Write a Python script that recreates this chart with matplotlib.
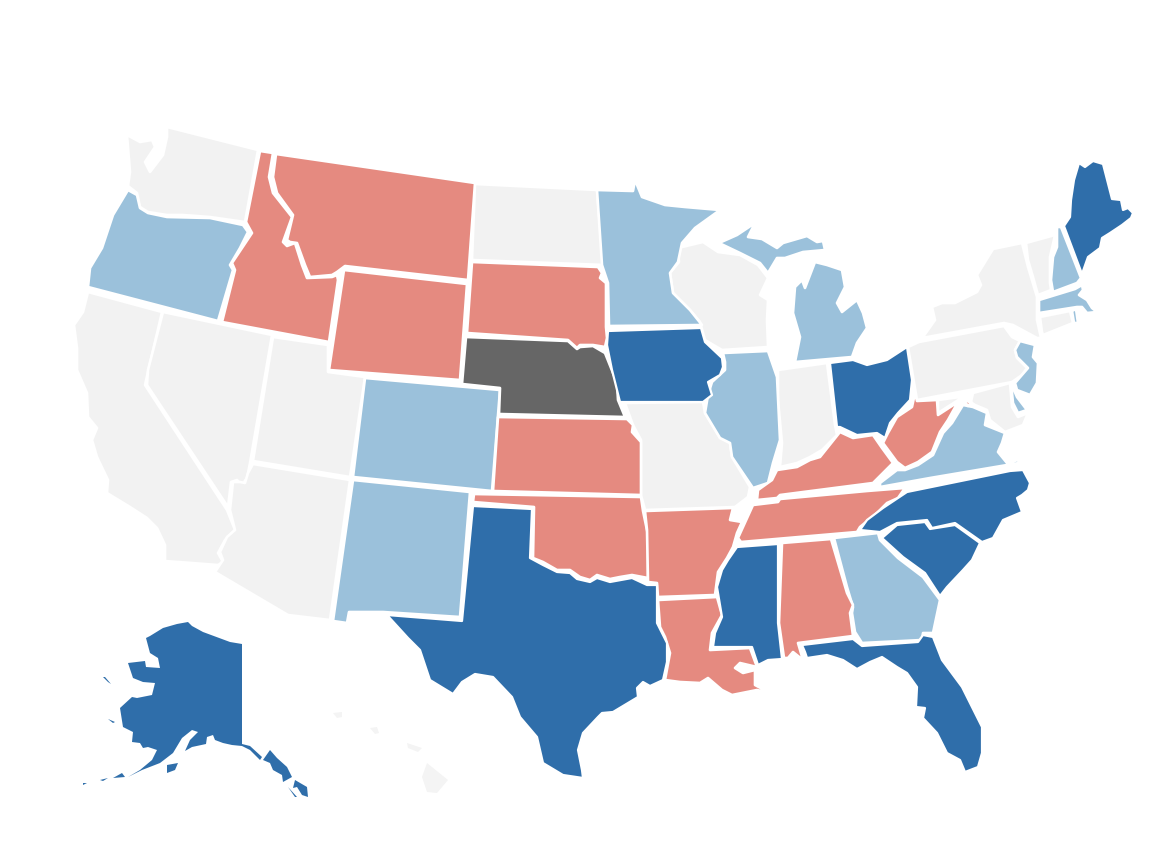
import matplotlib
matplotlib.use("Agg")
import matplotlib.pyplot as plt

# state outlines (x, y in picture pixels)
WA = [(167, 127), (258, 150), (245, 222), (210, 217), (183, 215), (167, 215), (148, 212), (140, 207), (137, 193), (128, 186), (130, 172), (127, 135), (140, 142), (152, 140), (155, 147), (145, 162), (150, 172), (163, 155), (167, 137)]
OR = [(128, 190), (137, 195), (140, 208), (148, 213), (167, 217), (210, 218), (243, 225), (248, 232), (240, 248), (230, 265), (233, 270), (218, 321), (88, 287), (90, 268), (102, 248), (113, 215)]
CA = [(88, 292), (162, 312), (148, 372), (145, 385), (227, 510), (235, 530), (225, 540), (218, 553), (223, 562), (218, 565), (165, 561), (165, 545), (157, 528), (147, 518), (130, 507), (107, 493), (108, 480), (97, 457), (92, 440), (97, 428), (88, 417), (87, 393), (77, 370), (77, 348), (74, 325), (83, 312)]
NV = [(163, 312), (272, 335), (250, 463), (247, 478), (242, 485), (237, 480), (231, 482), (228, 507), (147, 385), (148, 370)]
ID = [(260, 151), (273, 153), (269, 177), (273, 193), (292, 217), (283, 242), (287, 246), (295, 243), (302, 265), (307, 278), (332, 277), (337, 275), (338, 280), (329, 342), (222, 322), (235, 270), (232, 263), (252, 233), (246, 222)]
MT = [(276, 154), (475, 183), (468, 280), (345, 266), (337, 272), (332, 275), (310, 277), (305, 265), (297, 243), (290, 242), (287, 240), (293, 215), (277, 193), (273, 177)]
WY = [(344, 270), (467, 284), (460, 380), (329, 370)]
UT = [(273, 337), (328, 345), (328, 372), (365, 377), (350, 477), (253, 461)]
AZ = [(253, 464), (350, 480), (330, 620), (288, 615), (215, 572), (223, 560), (220, 552), (227, 537), (235, 530), (230, 510), (233, 482), (240, 482), (245, 483), (248, 473)]
CO = [(365, 378), (500, 390), (492, 491), (353, 477)]
NM = [(353, 480), (470, 492), (460, 617), (383, 612), (349, 612), (347, 623), (333, 621)]
ND = [(475, 184), (597, 190), (601, 240), (605, 265), (472, 260)]
SD = [(472, 262), (598, 267), (602, 273), (600, 278), (606, 283), (606, 327), (607, 338), (605, 347), (593, 345), (580, 345), (577, 348), (568, 340), (467, 333)]
NE = [(466, 337), (568, 341), (577, 349), (580, 347), (593, 346), (605, 353), (617, 383), (618, 400), (625, 417), (499, 414), (500, 388), (462, 384)]
KS = [(498, 417), (627, 419), (633, 425), (632, 432), (641, 442), (641, 495), (493, 491)]
OK = [(474, 494), (641, 497), (643, 511), (648, 535), (648, 578), (632, 575), (620, 577), (610, 579), (597, 575), (590, 580), (580, 577), (570, 570), (557, 570), (543, 562), (533, 558), (534, 507), (473, 502)]
TX = [(473, 506), (532, 509), (530, 558), (543, 565), (557, 572), (570, 573), (577, 579), (590, 582), (597, 578), (610, 582), (632, 578), (647, 585), (657, 585), (657, 623), (667, 643), (667, 662), (663, 680), (650, 686), (643, 682), (637, 688), (638, 697), (613, 712), (602, 713), (598, 717), (583, 733), (578, 750), (582, 770), (583, 778), (563, 775), (543, 763), (537, 737), (520, 717), (512, 697), (493, 677), (475, 674), (462, 682), (453, 694), (430, 680), (420, 650), (408, 638), (387, 615), (462, 621)]
MN = [(597, 190), (633, 191), (635, 180), (642, 197), (665, 205), (685, 207), (720, 210), (695, 228), (682, 243), (678, 262), (670, 273), (673, 293), (690, 310), (702, 325), (609, 326), (608, 283), (602, 265)]
IA = [(608, 331), (701, 328), (705, 342), (722, 358), (723, 367), (720, 375), (708, 382), (712, 395), (703, 402), (620, 402), (612, 370), (607, 345)]
MO = [(625, 403), (703, 402), (705, 413), (720, 438), (730, 443), (732, 457), (750, 487), (748, 497), (735, 507), (645, 510), (641, 495), (641, 440), (633, 425)]
AR = [(645, 511), (733, 508), (730, 520), (742, 522), (737, 533), (733, 547), (727, 558), (718, 572), (715, 595), (658, 597), (657, 583), (648, 582), (647, 530)]
LA = [(658, 600), (717, 597), (722, 615), (712, 633), (710, 650), (750, 648), (757, 667), (740, 663), (735, 668), (743, 673), (755, 670), (755, 685), (770, 693), (757, 690), (747, 692), (732, 695), (722, 690), (708, 678), (700, 683), (680, 682), (665, 680), (670, 653), (665, 637), (660, 627)]
WI = [(678, 248), (703, 242), (718, 252), (740, 255), (758, 265), (768, 278), (760, 295), (768, 300), (767, 320), (768, 347), (722, 350), (705, 340), (700, 322), (690, 310), (673, 293), (670, 273), (679, 262)]
MI_UP = [(719, 243), (737, 235), (755, 223), (748, 237), (762, 239), (777, 248), (783, 243), (807, 236), (817, 242), (823, 241), (825, 250), (803, 252), (785, 258), (777, 258), (768, 273), (760, 263), (740, 253)]
MI_LP = [(815, 262), (827, 265), (842, 270), (845, 287), (837, 303), (842, 312), (857, 300), (863, 313), (867, 328), (857, 343), (852, 357), (795, 362), (800, 337), (793, 313), (795, 287), (802, 280), (805, 288), (810, 275)]
IL = [(723, 353), (768, 351), (777, 377), (780, 440), (773, 463), (768, 483), (753, 488), (732, 457), (730, 443), (720, 438), (705, 413), (708, 395), (712, 382), (725, 370), (725, 362)]
IN = [(778, 370), (827, 363), (835, 425), (837, 435), (822, 450), (810, 457), (797, 463), (780, 467), (782, 443), (778, 400)]
OH = [(830, 363), (853, 360), (867, 365), (887, 360), (907, 347), (912, 380), (910, 400), (898, 413), (890, 423), (885, 438), (877, 433), (857, 435), (840, 427), (837, 427)]
KY = [(758, 490), (772, 480), (777, 470), (797, 467), (810, 460), (820, 457), (840, 432), (853, 438), (873, 435), (882, 448), (893, 463), (873, 483), (780, 495), (777, 498), (757, 500)]
TN = [(741, 542), (738, 538), (753, 505), (778, 502), (780, 499), (867, 491), (905, 488), (898, 498), (887, 503), (877, 513), (860, 527), (857, 532)]
MS = [(737, 547), (778, 544), (778, 623), (782, 659), (768, 660), (758, 665), (753, 650), (752, 647), (713, 647), (715, 633), (722, 617), (717, 587), (722, 570), (728, 560)]
AL = [(782, 543), (831, 539), (847, 593), (853, 605), (850, 613), (853, 636), (798, 643), (803, 660), (793, 652), (788, 658), (784, 658), (779, 623)]
GA = [(834, 538), (878, 533), (880, 540), (898, 558), (923, 577), (940, 600), (933, 633), (923, 633), (922, 640), (862, 643), (855, 632), (852, 613), (853, 607), (847, 587)]
FL = [(802, 645), (853, 639), (862, 646), (918, 642), (923, 635), (933, 637), (942, 660), (962, 687), (982, 727), (982, 753), (978, 767), (965, 772), (960, 760), (947, 753), (937, 733), (923, 718), (925, 708), (916, 707), (917, 687), (907, 673), (897, 667), (882, 657), (870, 662), (857, 669), (843, 660), (827, 655), (807, 658), (805, 652)]
SC = [(882, 538), (897, 525), (925, 522), (930, 529), (955, 525), (980, 543), (972, 560), (963, 570), (947, 587), (940, 596), (925, 573), (903, 557)]
NC = [(860, 530), (867, 520), (883, 508), (907, 492), (1010, 471), (1023, 470), (1030, 483), (1028, 490), (1022, 495), (1017, 498), (1022, 512), (1003, 520), (993, 538), (982, 542), (955, 523), (932, 528), (927, 520), (897, 523), (880, 532)]
VA = [(880, 483), (897, 470), (905, 470), (918, 465), (933, 455), (943, 433), (952, 423), (963, 405), (973, 407), (987, 413), (985, 425), (1005, 433), (1002, 443), (998, 452), (1007, 463), (1018, 460), (1019, 463), (930, 478), (880, 487)]
WV = [(915, 393), (917, 401), (937, 400), (938, 415), (958, 402), (948, 420), (940, 432), (932, 452), (918, 462), (905, 468), (897, 462), (883, 443), (888, 433), (897, 417), (912, 407)]
WV_TIP = [(962, 398), (971, 403), (968, 406)]
MD = [(938, 400), (960, 397), (971, 402), (973, 393), (1010, 383), (1012, 407), (1018, 417), (1028, 413), (1023, 425), (1005, 432), (990, 420), (987, 410), (975, 405), (963, 397), (938, 413)]
DE = [(1011, 383), (1017, 397), (1027, 410), (1018, 413), (1013, 403)]
PA = [(919, 342), (1004, 326), (1012, 337), (1020, 341), (1015, 350), (1017, 358), (1027, 368), (1022, 375), (1012, 382), (917, 400), (908, 347)]
NJ = [(1020, 341), (1035, 345), (1033, 357), (1038, 363), (1037, 383), (1030, 395), (1017, 390), (1015, 383), (1028, 368), (1017, 357), (1015, 350)]
NY = [(923, 337), (935, 320), (932, 307), (942, 303), (955, 303), (977, 292), (981, 285), (977, 275), (993, 249), (1022, 243), (1028, 267), (1037, 297), (1037, 320), (1041, 338), (1037, 338), (1013, 325), (1004, 323), (922, 338)]
CT = [(1040, 317), (1070, 311), (1073, 323), (1043, 335), (1042, 332)]
RI = [(1072, 311), (1076, 309), (1078, 323), (1074, 323)]
MA = [(1039, 300), (1075, 289), (1082, 285), (1083, 290), (1079, 295), (1087, 300), (1092, 308), (1097, 312), (1087, 313), (1082, 307), (1077, 307), (1039, 313)]
VT = [(1026, 243), (1055, 235), (1050, 257), (1050, 283), (1051, 290), (1038, 295), (1033, 277), (1028, 260)]
NH = [(1057, 227), (1061, 227), (1081, 278), (1077, 283), (1053, 292), (1051, 280), (1053, 257), (1057, 247)]
ME = [(1079, 163), (1085, 167), (1093, 161), (1103, 164), (1112, 199), (1121, 200), (1123, 210), (1128, 208), (1133, 213), (1131, 218), (1122, 225), (1110, 233), (1102, 238), (1100, 248), (1088, 257), (1082, 274), (1064, 226), (1070, 217), (1071, 200), (1074, 180)]
AK = [(146, 638), (150, 636), (163, 628), (177, 624), (188, 622), (192, 626), (203, 632), (230, 642), (242, 644), (242, 744), (250, 746), (262, 757), (260, 760), (250, 750), (242, 746), (232, 745), (223, 743), (215, 740), (213, 735), (207, 737), (206, 744), (192, 747), (185, 751), (190, 740), (198, 732), (192, 730), (182, 738), (173, 753), (160, 763), (142, 770), (128, 777), (140, 770), (152, 760), (157, 750), (148, 747), (143, 748), (140, 743), (132, 742), (133, 732), (123, 727), (120, 708), (132, 697), (137, 698), (152, 695), (155, 683), (143, 682), (133, 678), (128, 663), (145, 661), (146, 667), (160, 668), (158, 658), (150, 653)]
AK_KODIAK = [(167, 765), (178, 763), (175, 770), (167, 773)]
AK_ALEUT_1 = [(113, 778), (122, 773), (125, 777)]
AK_ALEUT_2 = [(100, 780), (108, 778), (103, 781)]
AK_ALEUT_3 = [(83, 783), (87, 783), (83, 785)]
AK_NUNIVAK = [(108, 719), (115, 722), (113, 723)]
AK_LAWRENCE = [(103, 677), (105, 677), (111, 684), (108, 682)]
AK_PAN_1 = [(263, 760), (270, 750), (277, 758), (287, 767), (292, 777), (283, 782), (282, 775), (273, 770), (270, 763)]
AK_PAN_2 = [(295, 780), (307, 787), (308, 797), (302, 795), (297, 787), (293, 788)]
AK_PAN_3 = [(288, 787), (297, 797), (295, 797)]
HI_BIG = [(427, 763), (448, 780), (437, 793), (427, 792), (422, 777)]
HI_MAUI = [(407, 743), (422, 748), (418, 752), (408, 748)]
HI_OAHU = [(370, 728), (377, 727), (379, 733), (375, 734)]
HI_KAUAI = [(333, 713), (342, 712), (342, 717), (337, 718)]

# which group each shape falls in
no_data = [WA, CA, NV, UT, AZ, ND, MO, WI, IN, NY, PA, MD, VT, CT]
light_blue = [OR, CO, NM, MN, IL, MI_UP, MI_LP, VA, GA, NJ, DE, NH, MA, RI]
dark_blue = [TX, IA, OH, NC, SC, MS, FL, ME]
alaska = [AK, AK_KODIAK, AK_ALEUT_1, AK_ALEUT_2, AK_ALEUT_3, AK_NUNIVAK, AK_LAWRENCE, AK_PAN_1, AK_PAN_2, AK_PAN_3]
salmon = [ID, MT, WY, SD, KS, OK, AR, LA, KY, TN, AL, WV, WV_TIP]
dark_grey = [NE]
hawaii = [HI_BIG, HI_MAUI, HI_OAHU, HI_KAUAI]

colors = {"no_data": "#f2f2f2", "light_blue": "#9bc1db", "dark_blue": "#2f6eaa", "salmon": "#e58a80", "dark_grey": "#666666", "hawaii": "#f4f4f4"}

fig = plt.figure(figsize=(11.7, 8.57), dpi=100)
ax = fig.add_axes([0, 0, 1, 1])


def draw_group(shapes, color, lw=1.9):
    for shape in shapes:
        xs, ys = zip(*shape)
        ax.fill(xs, ys, facecolor=color, edgecolor="white" if lw else "none", linewidth=lw, joinstyle="round")


draw_group(no_data, colors["no_data"])
draw_group(light_blue, colors["light_blue"])
draw_group(salmon, colors["salmon"])
draw_group(dark_grey, colors["dark_grey"])
draw_group(dark_blue, colors["dark_blue"], lw=1.6)
draw_group(alaska, colors["dark_blue"], lw=0)
draw_group(hawaii, colors["hawaii"], lw=0)

ax.set_xlim(0, 1170)
ax.set_ylim(857, 0)
ax.axis("off")

plt.savefig("out.png", dpi=100)
